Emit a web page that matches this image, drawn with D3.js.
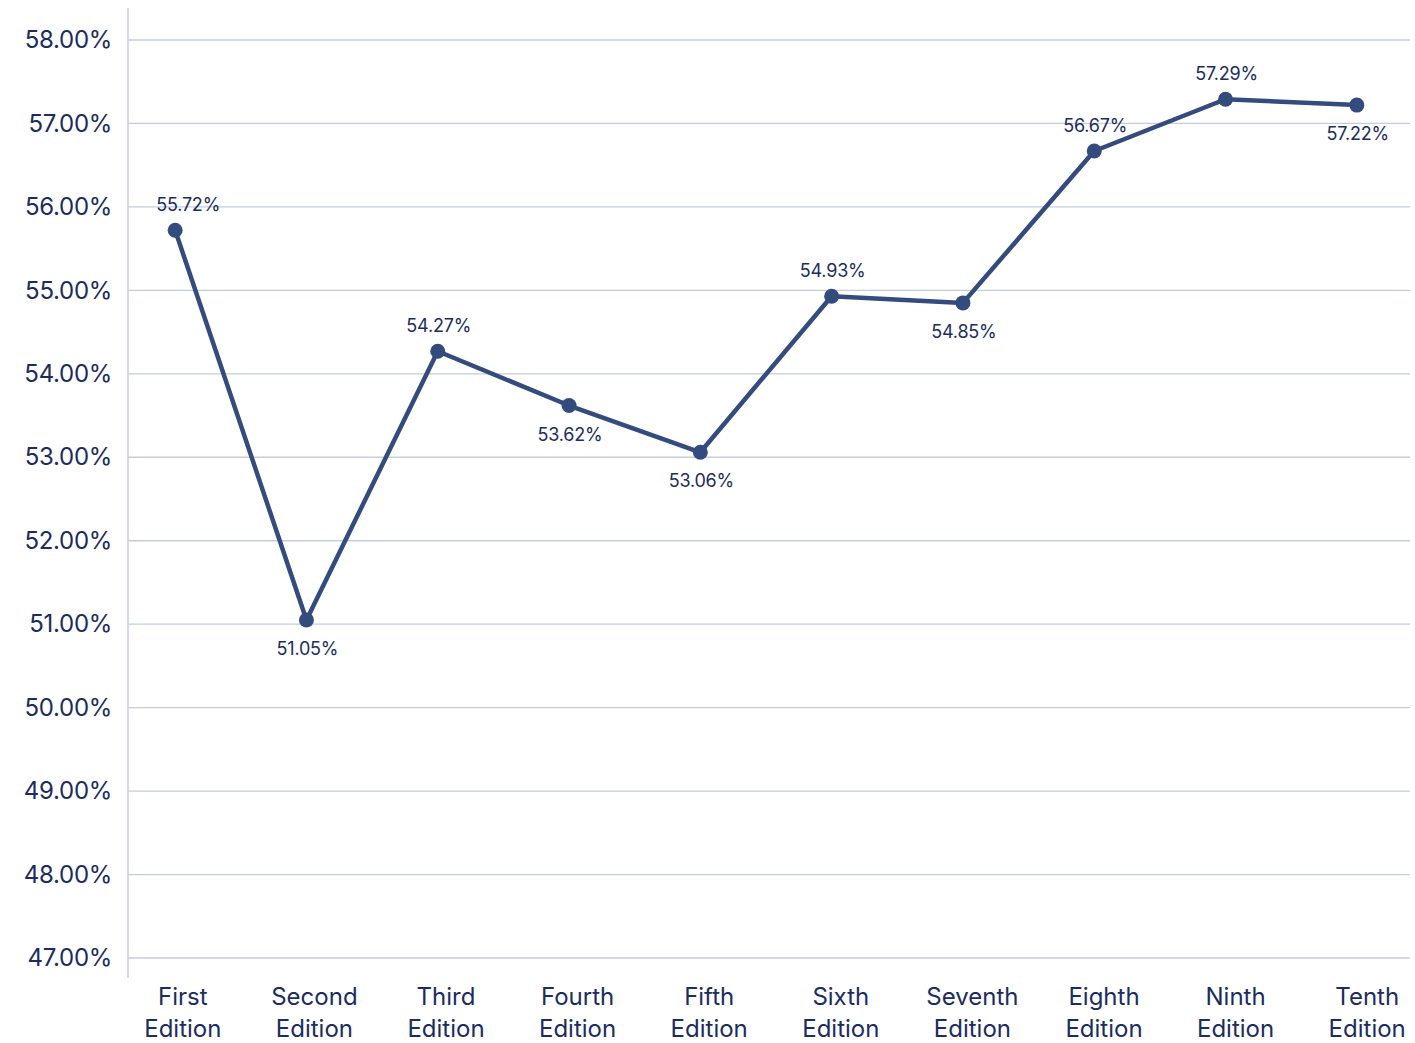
<!DOCTYPE html>
<html>
<head>
<meta charset="utf-8">
<script src="https://cdn.jsdelivr.net/npm/d3@7"></script>
<style>
  html, body { margin: 0; padding: 0; background: #ffffff; }
  svg { display: block; }
  text { font-family: Inter, "Noto Sans", sans-serif; }
</style>
</head>
<body>
<svg id="chart" width="1415" height="1043"></svg>
<script>
const categories = ["First Edition", "Second Edition", "Third Edition", "Fourth Edition", "Fifth Edition",
                    "Sixth Edition", "Seventh Edition", "Eighth Edition", "Ninth Edition", "Tenth Edition"];
const values = [55.72, 51.05, 54.27, 53.62, 53.06, 54.93, 54.85, 56.67, 57.29, 57.22];
const labelSide = ["above", "below", "above", "below", "below", "above", "below", "above", "above", "below"];
const yTicks = [47, 48, 49, 50, 51, 52, 53, 54, 55, 56, 57, 58];

const textColor = "#1c2c5e";
const lineColor = "#344b7d";
const gridColor = "#c6cce0";

const svg = d3.select("#chart");
const plotLeft = 128, plotRight = 1410, plotTop = 40, plotBottom = 958;

const y = d3.scaleLinear().domain([47, 58]).range([plotBottom, plotTop]);
const xLabel = d3.scaleBand().domain(categories).range([117, 1433]);
const xPoint = d3.scaleBand().domain(categories).range([109.5, 1422.5]);
const px = c => xPoint(c) + xPoint.bandwidth() / 2;

// gridlines
svg.append("g")
  .selectAll("line")
  .data(yTicks)
  .join("line")
  .attr("x1", plotLeft).attr("x2", plotRight)
  .attr("y1", d => y(d)).attr("y2", d => y(d))
  .attr("stroke", gridColor).attr("stroke-width", 1.3);

// y axis
const yAxis = d3.axisLeft(y).tickValues(yTicks).tickFormat(d => d.toFixed(2) + "%").tickSize(0).tickPadding(16);
const yg = svg.append("g").attr("transform", `translate(${plotLeft},0)`).call(yAxis);
yg.select(".domain").remove();
yg.selectAll("text").attr("fill", textColor).style("font-size", "24px").style("font-family", "Inter, sans-serif")
  .style("letter-spacing", "-0.3px");

// vertical axis line
svg.append("line")
  .attr("x1", plotLeft).attr("x2", plotLeft)
  .attr("y1", 8).attr("y2", 978)
  .attr("stroke", gridColor).attr("stroke-width", 1.5);

// x labels
const xg = svg.append("g");
categories.forEach(c => {
  const words = c.split(" ");
  const t = xg.append("text")
    .attr("x", xLabel(c) + xLabel.bandwidth() / 2)
    .attr("text-anchor", "middle")
    .attr("fill", textColor)
    .style("font-size", "24px");
  words.forEach((w, i) => {
    t.append("tspan").attr("x", xLabel(c) + xLabel.bandwidth() / 2).attr("y", 1005 + i * 32).text(w);
  });
});

// line
const line = d3.line().x((d, i) => px(categories[i])).y(d => y(d));
svg.append("path")
  .datum(values)
  .attr("d", line)
  .attr("fill", "none")
  .attr("stroke", lineColor)
  .attr("stroke-width", 4.5)
  .attr("stroke-linejoin", "round");

// points
svg.append("g")
  .selectAll("circle")
  .data(values)
  .join("circle")
  .attr("cx", (d, i) => px(categories[i]))
  .attr("cy", d => y(d))
  .attr("r", 7.5)
  .attr("fill", lineColor);

// data labels
svg.append("g")
  .selectAll("text")
  .data(values)
  .join("text")
  .attr("x", (d, i) => px(categories[i]) + (i === 0 ? 13 : 1))
  .attr("y", (d, i) => y(d) + (labelSide[i] === "above" ? -19 : 35))
  .attr("text-anchor", "middle")
  .attr("fill", textColor)
  .style("font-size", "18px")
  .style("letter-spacing", "-0.2px")
  .text(d => d.toFixed(2) + "%");
</script>
</body>
</html>
